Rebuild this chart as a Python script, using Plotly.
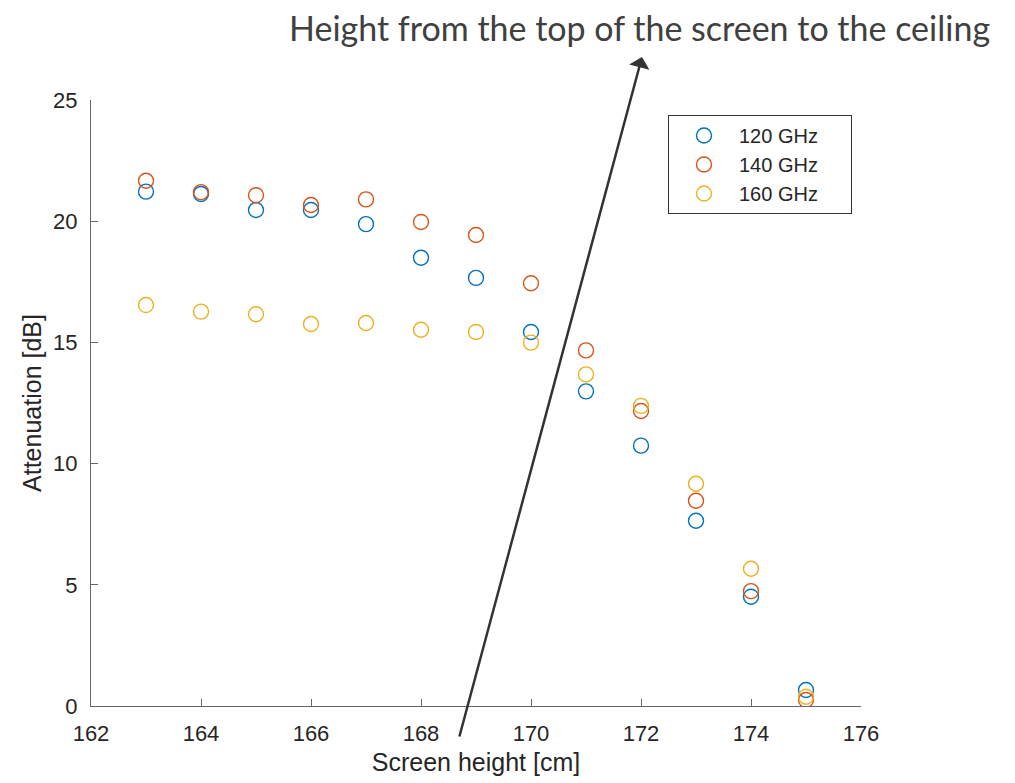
import plotly.graph_objects as go

# Screen heights (cm) and measured attenuation (dB) per frequency
screen_height = [163, 164, 165, 166, 167, 168, 169, 170, 171, 172, 173, 174, 175]
att_120 = [21.22, 21.12, 20.46, 20.46, 19.88, 18.49, 17.66, 15.43, 12.98, 10.74, 7.64, 4.51, 0.66]
att_140 = [21.67, 21.20, 21.07, 20.67, 20.90, 19.97, 19.43, 17.44, 14.67, 12.17, 8.47, 4.74, 0.25]
att_160 = [16.54, 16.27, 16.16, 15.76, 15.80, 15.52, 15.43, 14.99, 13.68, 12.38, 9.17, 5.66, 0.38]

series_names = ["120 GHz", "140 GHz", "160 GHz"]
series_colors = ["#0072BD", "#D95319", "#EDB120"]

x_ticks = [162, 164, 166, 168, 170, 172, 174, 176]
y_ticks = [0, 5, 10, 15, 20, 25]

caption = "Height from the top of the screen to the ceiling"

# Plot area in pixels (figure is 1015 x 783)
L, R, T, B = 91, 154, 100, 77
W, H = 1015, 783
plot_w, plot_h = W - L - R, H - T - B

fig = go.Figure()
for name, vals, col in zip(series_names, [att_120, att_140, att_160], series_colors):
    fig.add_trace(go.Scatter(
        x=screen_height, y=vals, mode="markers",
        name=name + "\u00a0" * 5,
        marker=dict(symbol="circle-open", size=15, color=col,
                    line=dict(width=1.4, color=col)),
    ))

axis_common = dict(
    showline=True, linecolor="#666666", linewidth=1,
    ticks="inside", ticklen=7, tickcolor="#666666", tickwidth=1,
    showgrid=False, zeroline=False, mirror=False,
    tickfont=dict(family="Liberation Sans, Arial", size=22, color="#262626"),
)
title_font = dict(family="Liberation Sans, Arial", size=25, color="#262626")

fig.update_layout(
    width=W, height=H,
    margin=dict(l=L, r=R, t=T, b=B),
    paper_bgcolor="white", plot_bgcolor="white",
    xaxis=dict(range=[162, 176], tickvals=x_ticks, ticklabelstandoff=8,
               title=dict(text="Screen height [cm]", standoff=8, font=title_font),
               **axis_common),
    yaxis=dict(range=[0, 25], tickvals=y_ticks, ticklabelstandoff=8,
               title=dict(text="Attenuation [dB]", standoff=4, font=title_font),
               **axis_common),
    legend=dict(x=(668 - L) / plot_w, y=(H - B - 115) / plot_h,
                xanchor="left", yanchor="top",
                bgcolor="white", bordercolor="#333333", borderwidth=1,
                itemwidth=60,
                font=dict(family="Liberation Sans, Arial", size=20, color="#262626")),
    showlegend=True,
)

# Arrow rising from below the x axis to the caption
head_px = (642, 57)
tail_px = (459, 738)
fig.add_annotation(
    x=(head_px[0] - L) / plot_w, y=(H - B - head_px[1]) / plot_h,
    xref="paper", yref="paper",
    ax=tail_px[0] - head_px[0], ay=tail_px[1] - head_px[1],
    showarrow=True, arrowhead=1, arrowsize=1.4, arrowwidth=2.5,
    arrowcolor="#333333", text="",
)

fig.add_annotation(
    x=(639 - L) / plot_w, y=(H - B - 27) / plot_h, xref="paper", yref="paper",
    xanchor="center", yanchor="middle", showarrow=False,
    text=caption,
    font=dict(family="Lato", size=34, color="#404040"),
)

fig.write_html("out.html")
